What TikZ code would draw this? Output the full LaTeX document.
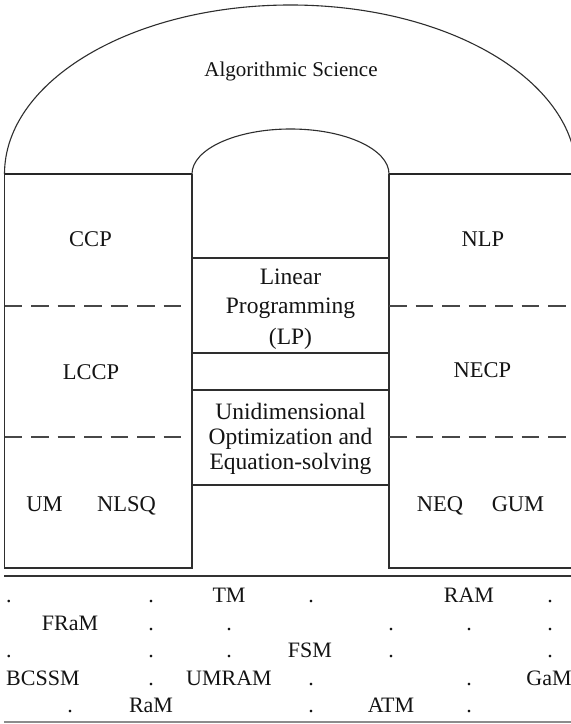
\documentclass[tikz,border=0pt]{standalone}
\usepackage{fontspec}
\setmainfont{Liberation Serif}
\begin{document}
\begin{tikzpicture}[x=1pt,y=1pt,
  ink/.style={draw=black!82,line width=1.1pt},
  base/.style={draw=black!85,line width=1.7pt},
  divider/.style={draw=black!72,line width=1.2pt,dash pattern=on 17.5pt off 9pt},
  lbl/.style={text=black!92,font=\fontsize{22.5}{27}\selectfont,inner sep=0pt,anchor=base},
  title/.style={lbl,font=\fontsize{21}{25}\selectfont},
  mid/.style={text=black!92,font=\fontsize{23.5}{28}\selectfont,inner sep=0pt,anchor=base},
  cell/.style={text=black!92,font=\fontsize{22}{26}\selectfont,inner sep=0pt,anchor=base},
  cellw/.style={cell,anchor=base west}]
\clip (0,0) rectangle (571,724);
\fill[white] (0,0) rectangle (571,724);

% outer arch and inner arch
\draw[ink] (4.5,550) arc[start angle=180,end angle=0,x radius=286,y radius=169];
\draw[ink] (192,550) arc[start angle=180,end angle=0,x radius=98.5,y radius=45];

% side boxes
\draw[ink] (4.5,550) -- (4.5,156) -- (192,156) -- (192,550);
\draw[ink] (389,550) -- (389,156) -- (576.5,156) -- (576.5,550);
\draw[base] (4.5,550) -- (192,550);
\draw[base] (389,550) -- (576.5,550);

% dashed separators
\draw[divider] (4.5,418) -- (185,418);
\draw[divider] (4.5,287) -- (185,287);
\draw[divider] (389,418) -- (571,418);
\draw[divider] (389,287) -- (571,287);

% boxes in the middle column
\draw[ink] (192,466) -- (389,466);
\draw[ink] (192,371) -- (389,371);
\draw[ink] (192,334) -- (389,334);
\draw[ink] (192,239) -- (389,239);

% labels
\node[title] (as) at (291,647) {Algorithmic Science};
\node[lbl] (ccp) at (90.5,477) {CCP};
\node[lbl] (nlp) at (483,477) {NLP};
\node[lbl] (lccp) at (91,344) {LCCP};
\node[lbl] (necp) at (482.5,346) {NECP};
\node[lbl] (um) at (44.5,212) {UM};
\node[lbl] (nlsq) at (126.5,212) {NLSQ};
\node[lbl] (neq) at (440,212) {NEQ};
\node[lbl] (gum) at (518,212) {GUM};

\node[mid] (lp1) at (290.5,439) {Linear};
\node[mid] (lp2) at (290.5,410) {Programming};
\node[mid] (lp3) at (290.5,379) {(LP)};
\node[mid] (ue1) at (290.5,304) {Unidimensional};
\node[mid] (ue2) at (290.5,279) {Optimization and};
\node[mid] (ue3) at (290.5,254) {Equation-solving};

% table of machine models
\draw[draw=black!80,line width=1.5pt] (4,148) -- (571,148);
\draw[draw=black!45,line width=1.5pt] (4,2) -- (571,2);

% row 1
\node[cellw] (r1a) at (6,121) {.};
\node[cell] (r1b) at (151,121) {.};
\node[cell] (r1c) at (229,121) {TM};
\node[cell] (r1d) at (311,121) {.};
\node[cell] (r1e) at (469,121) {RAM};
\node[cell] (r1f) at (550,121) {.};
% row 2
\node[cell] (r2a) at (70,93) {FRaM};
\node[cell] (r2b) at (151,93) {.};
\node[cell] (r2c) at (229,93) {.};
\node[cell] (r2d) at (391,93) {.};
\node[cell] (r2e) at (469,93) {.};
\node[cell] (r2f) at (550,93) {.};
% row 3
\node[cellw] (r3a) at (6,66) {.};
\node[cell] (r3b) at (151,66) {.};
\node[cell] (r3c) at (229,66) {.};
\node[cell] (r3d) at (310,66) {FSM};
\node[cell] (r3e) at (391,66) {.};
\node[cell] (r3f) at (550,66) {.};
% row 4
\node[cellw] (r4a) at (6,38) {BCSSM};
\node[cell] (r4b) at (151,38) {.};
\node[cell] (r4c) at (229,38) {UMRAM};
\node[cell] (r4d) at (311,38) {.};
\node[cell] (r4e) at (469,38) {.};
\node[cell] (r4f) at (549,38) {GaM};
% row 5
\node[cell] (r5a) at (70,11) {.};
\node[cell] (r5b) at (151,11) {RaM};
\node[cell] (r5c) at (311,11) {.};
\node[cell] (r5d) at (391,11) {ATM};
\node[cell] (r5e) at (469,11) {.};
\end{tikzpicture}
\end{document}
